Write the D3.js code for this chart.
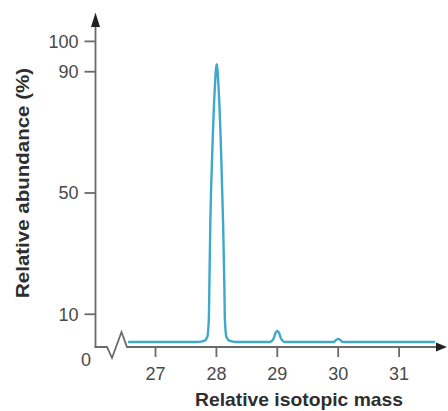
<!DOCTYPE html>
<html>
<head>
<meta charset="utf-8">
<script src="https://cdn.jsdelivr.net/npm/d3@7"></script>
<style>
  body { margin: 0; background: #fff; }
  svg { display: block; }
  text { font-family: "Liberation Sans", Arial, sans-serif; }
</style>
</head>
<body>
<div id="chart"></div>
<script>
// Trace: relative isotopic mass vs relative abundance (%)
var traceMass = [26.55, 27.70, 27.80, 27.85, 27.875, 27.885, 27.90, 27.935, 27.975, 28.005,
    28.035, 28.075, 28.11, 28.13, 28.14, 28.165, 28.22, 28.32,
    28.88, 28.94, 28.97, 29.00, 29.03, 29.06, 29.12,
    29.92, 29.97, 30.00, 30.03, 30.08, 31.59]
var traceAbundance = [0.85, 0.85, 1.2, 2.5, 8, 20, 40, 65, 85, 92.5,
    85, 65, 40, 20, 8, 2.5, 1.2, 0.85,
    0.85, 2, 3.8, 4.5, 3.8, 2, 0.85,
    0.85, 1.6, 1.9, 1.6, 0.85, 0.85]

var xTicks = [27, 28, 29, 30, 31]
var yTicks = [10, 50, 90, 100]

var width = 448
var height = 411

var svg = d3.select('#chart').append('svg')
    .attr('width', width)
    .attr('height', height)

var x = d3.scaleLinear().domain([27, 31]).range([155.5, 399.1])
var y = d3.scaleLinear().domain([0, 100]).range([344.6, 41.4])

var axisX = 95.5   // y axis position
var axisY = 347    // x axis position
var axisColor = '#6a6a6a'
var labelColor = '#4a4a4a'

// y axis line + arrow
svg.append('line')
    .attr('x1', axisX).attr('y1', axisY)
    .attr('x2', axisX).attr('y2', 24)
    .attr('stroke', axisColor)
    .attr('stroke-width', 1.8)
svg.append('path')
    .attr('d', d3.line()([[axisX, 12.5], [axisX - 4.5, 27], [axisX + 4.5, 27]]) + 'Z')
    .attr('fill', '#222')

// x axis with break zigzag + arrow
svg.append('path')
    .attr('d', d3.line()([[axisX - 1, axisY], [axisX + 11.5, axisY], [axisX + 16.5, axisY + 11],
        [axisX + 26, axisY - 15], [axisX + 31.5, axisY], [width - 10, axisY]]))
    .attr('fill', 'none')
    .attr('stroke', axisColor)
    .attr('stroke-width', 1.8)
    .attr('stroke-linejoin', 'miter')
svg.append('path')
    .attr('d', d3.line()([[width - 1, axisY], [width - 12, axisY - 4.5], [width - 12, axisY + 4.5]]) + 'Z')
    .attr('fill', '#222')

// y ticks
var yt = svg.selectAll('.ytick')
    .data(yTicks)
    .enter().append('g')
    .attr('class', 'ytick')
    .attr('transform', function(d) { return 'translate(0,' + y(d) + ')' })
yt.append('line')
    .attr('x1', axisX - 11).attr('x2', axisX)
    .attr('stroke', axisColor)
    .attr('stroke-width', 1.8)
yt.append('text')
    .attr('x', axisX - 17)
    .attr('dy', '0.35em')
    .attr('text-anchor', 'end')
    .attr('font-size', 18)
    .attr('fill', labelColor)
    .text(function(d) { return d })

svg.append('text')
    .attr('x', 91)
    .attr('y', y(0) + 21)
    .attr('text-anchor', 'end')
    .attr('font-size', 18)
    .attr('fill', labelColor)
    .text('0')

// x ticks
var xt = svg.selectAll('.xtick')
    .data(xTicks)
    .enter().append('g')
    .attr('class', 'xtick')
    .attr('transform', function(d) { return 'translate(' + x(d) + ',0)' })
xt.append('line')
    .attr('y1', axisY).attr('y2', axisY + 10)
    .attr('stroke', axisColor)
    .attr('stroke-width', 1.8)
xt.append('text')
    .attr('y', 380)
    .attr('text-anchor', 'middle')
    .attr('font-size', 18)
    .attr('fill', labelColor)
    .text(function(d) { return d })

// axis titles
svg.append('text')
    .attr('x', 299)
    .attr('y', 406)
    .attr('text-anchor', 'middle')
    .attr('font-size', 19)
    .attr('font-weight', 'bold')
    .attr('fill', '#2e2e2e')
    .attr('textLength', 208)
    .attr('lengthAdjust', 'spacingAndGlyphs')
    .text('Relative isotopic mass')

svg.append('text')
    .attr('transform', 'translate(29,183) rotate(-90)')
    .attr('text-anchor', 'middle')
    .attr('font-size', 19)
    .attr('font-weight', 'bold')
    .attr('fill', '#2e2e2e')
    .attr('textLength', 230)
    .attr('lengthAdjust', 'spacingAndGlyphs')
    .text('Relative abundance (%)')

// the trace
var points = traceMass.map(function(m, i) { return [m, traceAbundance[i]] })
var line = d3.line()
    .x(function(d) { return x(d[0]) })
    .y(function(d) { return y(d[1]) })
    .curve(d3.curveMonotoneX)

svg.append('path')
    .datum(points)
    .attr('d', line)
    .attr('fill', 'none')
    .attr('stroke', '#3fa9c9')
    .attr('stroke-width', 2.4)
    .attr('stroke-linejoin', 'round')
</script>
</body>
</html>
